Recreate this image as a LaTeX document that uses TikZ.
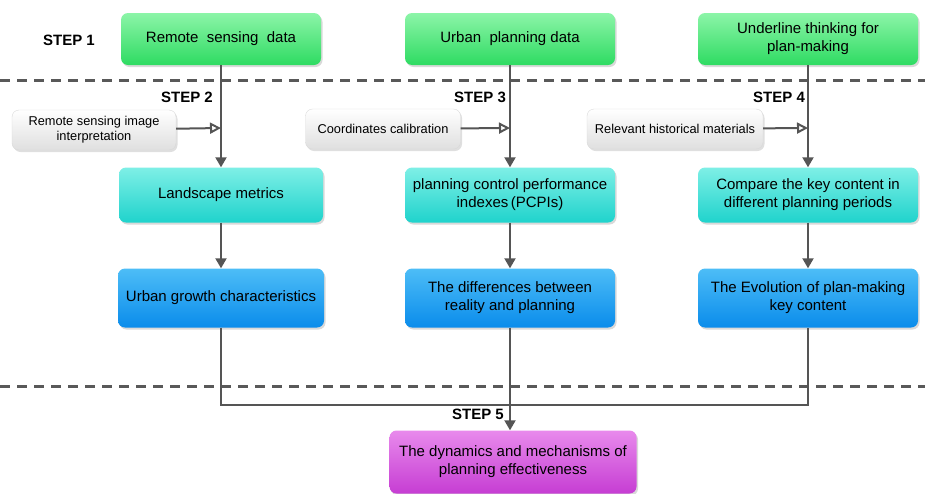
\documentclass[tikz,border=0pt]{standalone}
\usepackage{fontspec}
\setmainfont{Liberation Sans}
\usetikzlibrary{shadows, arrows.meta, positioning}
\definecolor{lineg}{HTML}{555555}
\definecolor{grtop}{HTML}{8CF5A8}
\definecolor{grbot}{HTML}{2EDB62}
\definecolor{cytop}{HTML}{7EEFE6}
\definecolor{cybot}{HTML}{1FD3CC}
\definecolor{bltop}{HTML}{4DBDF7}
\definecolor{blbot}{HTML}{0A8CEB}
\definecolor{pktop}{HTML}{E88AEC}
\definecolor{pkbot}{HTML}{C63DD3}
\tikzstyle{arrow}   = [line width=2pt, lineg, -{Triangle[length=10pt, width=11pt]}]
\tikzstyle{hint}    = [line width=2pt, lineg, -{Triangle[open, length=11pt, width=11pt]}]
\tikzstyle{edge}    = [line width=2pt, lineg]
\tikzstyle{box}     = [rounded corners=7pt, align=center, font=\fontsize{15}{18}\selectfont, inner sep=2pt, drop shadow={opacity=0.3, shadow xshift=1.5pt, shadow yshift=-2pt}]
\tikzstyle{datab}   = [box, minimum width=200pt, minimum height=52pt, top color=grtop, bottom color=grbot]
\tikzstyle{methb}   = [box, minimum width=204pt, minimum height=55pt, top color=cytop, bottom color=cybot]
\tikzstyle{resb}    = [box, minimum width=206pt, minimum height=59pt, top color=bltop, bottom color=blbot]
\tikzstyle{finb}    = [box, minimum width=247pt, minimum height=63pt, top color=pktop, bottom color=pkbot]
\tikzstyle{greyb}   = [rounded corners=7pt, align=center, font=\fontsize{12.8}{15}\selectfont, inner sep=2pt, draw=gray!30, top color=white, bottom color=gray!25, drop shadow={opacity=0.25, shadow xshift=1.5pt, shadow yshift=-2pt}]
\tikzstyle{steplab} = [font=\bfseries\fontsize{15}{17}\selectfont]
\tikzstyle{sep}     = [line width=3pt, gray!70!black, dash pattern=on 10pt off 7pt]

\begin{document}
\begin{tikzpicture}[x=1pt, y=-1pt]
\useasboundingbox (0,0) rectangle (925,493);

% horni rada - data
\node[datab] (d1) at (221,39) {Remote\ \ sensing\ \ data};
\node[datab, minimum width=210pt] (d2) at (510,39) {Urban\ \ planning data};
\node[datab, minimum width=220pt] (d3) at (808,39) {Underline thinking for\\plan-making};

% oddelovace
\draw[sep] (0,80) -- (925,80);
\draw[sep] (0,386) -- (925,386);

% popisky kroku
\node[steplab] (s1) at (69,40) {STEP 1};
\node[steplab] (s2) at (187,97) {STEP 2};
\node[steplab] (s3) at (480,97) {STEP 3};
\node[steplab] (s4) at (779,97) {STEP 4};
\node[steplab] (s5) at (478,414) {STEP 5};

% sede pomocne bloky
\node[greyb, minimum width=164pt, minimum height=40pt] (g1) at (94,130) {Remote sensing image\\interpretation};
\node[greyb, minimum width=155pt, minimum height=40pt] (g2) at (383,129) {Coordinates calibration};
\node[greyb, minimum width=176pt, minimum height=40pt] (g3) at (675,129) {Relevant historical materials};

% metody
\node[methb] (m1) at (221,195) {Landscape metrics};
\node[methb, minimum width=210pt] (m2) at (510,195) {planning control performance\\indexes\,(PCPIs)};
\node[methb, minimum width=220pt] (m3) at (808,195) {Compare the key content in\\different planning periods};

% vysledky
\node[resb] (r1) at (221,298) {Urban growth characteristics};
\node[resb, minimum width=210pt] (r2) at (510,298) {The differences between\\reality and planning};
\node[resb, minimum width=220pt] (r3) at (808,298) {The Evolution of plan-making\\key content};

% zaver
\node[finb] (f) at (513,462) {The dynamics and mechanisms of\\planning effectiveness};

% spojnice
\coordinate (j1) at (221,128);
\coordinate (j2) at (510,128);
\coordinate (j3) at (808,128);
\coordinate (jl) at (221,405);
\coordinate (jm) at (510,405);
\coordinate (jr) at (808,405);

\draw[arrow] (d1) -- (m1);
\draw[arrow] (d2) -- (m2);
\draw[arrow] (d3) -- (m3);

\draw[hint] (g1) -- (j1);
\draw[hint] (g2) -- (j2);
\draw[hint] (g3) -- (j3);

\draw[arrow] (m1) -- (r1);
\draw[arrow] (m2) -- (r2);
\draw[arrow] (m3) -- (r3);

\draw[edge] (r1) -- (jl) -- (jr) -- (r3);
\draw[edge] (r2) -- (jm);
\draw[arrow] (jm) -- (f.north -| jm);

\end{tikzpicture}
\end{document}
